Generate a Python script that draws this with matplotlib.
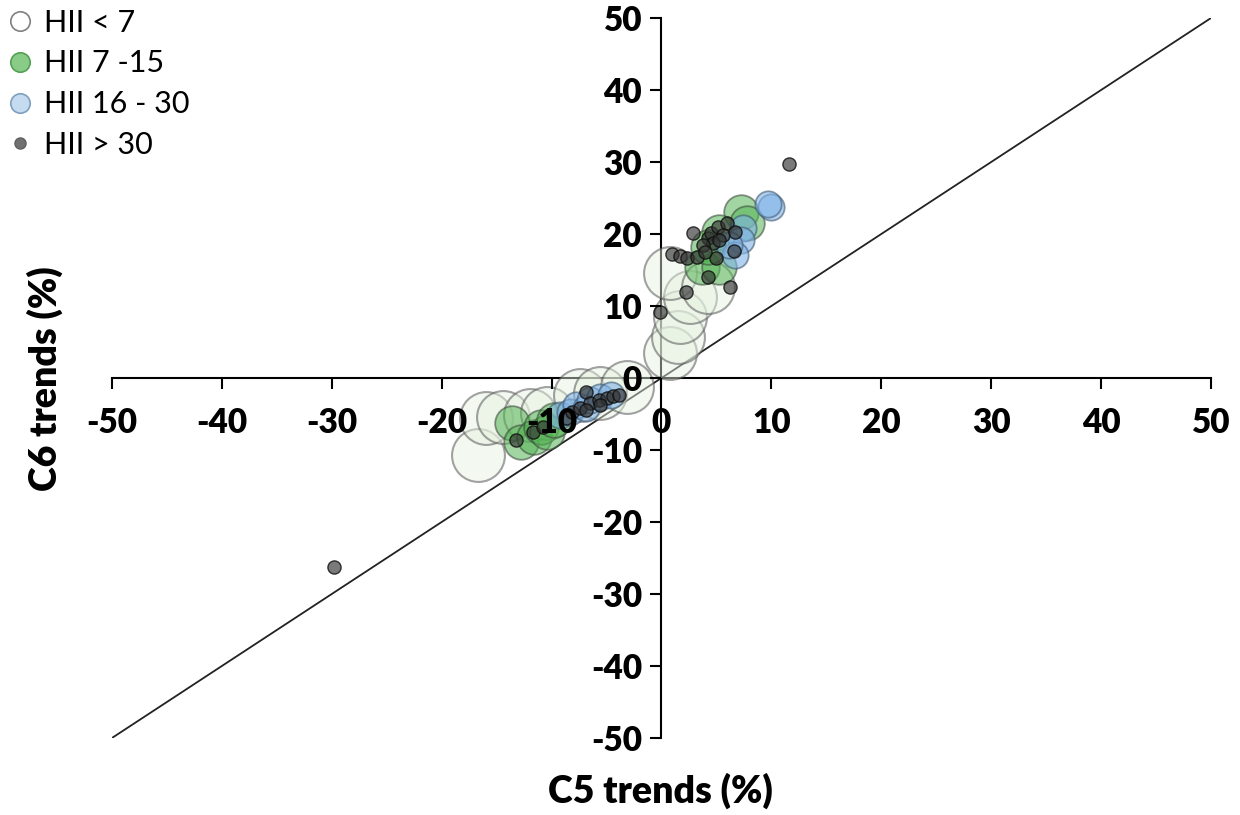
import matplotlib.pyplot as plt
from matplotlib.lines import Line2D

plt.rcParams['axes.unicode_minus'] = False

# HII < 7
lo_x = [0.8, 1.5, 1.7, 2.6, 0.8, 4.2, -16.7, -16.0, -14.4, -12.0, -10.4, -7.4, -5.6, -3.1]
lo_y = [3.5, 5.7, 8.5, 11.3, 14.6, 12.6, -10.7, -5.6, -5.4, -5.1, -4.9, -2.4, -2.1, -1.25]

# HII 7 - 15
mid_x = [7.2, 7.8, 5.2, 3.7, 5.2, 4.2, -13.6, -12.8, -11.6, -11.0, -10.4, -9.8]
mid_y = [23.1, 21.5, 20.3, 15.4, 15.4, 18.2, -6.3, -8.9, -8.2, -6.8, -7.5, -5.8]

# HII 16 - 30
hi_x = [10.0, 9.7, 7.4, 7.2, 6.7, 6.1, -9.2, -8.3, -7.8, -6.9, -6.5, -5.6, -4.6]
hi_y = [23.8, 24.2, 20.8, 19.2, 17.1, 18.5, -5.1, -4.7, -3.75, -4.2, -3.1, -2.6, -2.4]

# HII > 30
top_x = [-29.8, 11.6, -0.1, 2.2, 6.2, 2.9, 1.0, 1.7, 2.3, 3.2, 5.0, 4.2, 4.2, 4.5, 5.1,
         6.0, 5.6, 4.7, 3.8, 4.0, 6.7, 6.6, 5.2,
         -13.2, -11.7, -10.8, -6.9, -8.7, -8.1, -7.4, -6.5, -5.7, -5.0, -4.4, -3.9, -5.6, -6.9]
top_y = [-26.3, 29.7, 9.2, 12.0, 12.6, 20.1, 17.2, 16.9, 16.7, 16.8, 16.7, 14.0, 19.4, 20.1, 21.0,
         21.5, 19.9, 18.7, 18.5, 17.5, 20.3, 17.6, 19.2,
         -8.6, -7.5, -6.8, -1.9, -5.6, -4.7, -4.2, -3.5, -3.1, -2.8, -2.5, -2.4, -3.75, -4.4]

ticks = [-50, -40, -30, -20, -10, 0, 10, 20, 30, 40, 50]

fig = plt.figure(figsize=(12.4, 8.15), dpi=100)
ax = fig.add_axes([0.0903, 0.0945, 0.8863, 0.8834])

ax.plot([-50, 50], [-50, 50], color='#222222', lw=1.3, zorder=1)

ax.scatter(lo_x, lo_y, s=1450, facecolor=(0.90, 0.95, 0.88, 0.45),
           edgecolor=(0.35, 0.35, 0.35, 0.55), lw=1.5, zorder=2)
ax.scatter(mid_x, mid_y, s=620, facecolor=(0.33, 0.70, 0.33, 0.55),
           edgecolor=(0.25, 0.3, 0.25, 0.6), lw=1.3, zorder=3)
ax.scatter(hi_x, hi_y, s=360, facecolor=(0.50, 0.70, 0.90, 0.6),
           edgecolor=(0.25, 0.35, 0.45, 0.6), lw=1.3, zorder=4)
ax.scatter(top_x, top_y, s=90, facecolor=(0.2, 0.2, 0.2, 0.65),
           edgecolor=(0.05, 0.05, 0.05, 0.8), lw=1.0, zorder=5)

ax.set_xlim(-50, 50)
ax.set_ylim(-50, 50)
ax.spines['left'].set_position(('data', 0))
ax.spines['bottom'].set_position(('data', 0))
ax.spines['right'].set_visible(False)
ax.spines['top'].set_visible(False)
for sp in ['left', 'bottom']:
    ax.spines[sp].set_linewidth(1.5)
    ax.spines[sp].set_zorder(1)
ax.xaxis.set_zorder(10)
ax.yaxis.set_zorder(10)
ax.set_xticks(ticks)
ax.set_yticks(ticks)
ax.tick_params(direction='out', length=8, width=1.5, pad=13, labelsize=24)
ax.tick_params(axis='y', pad=6)
for lab in ax.get_xticklabels() + ax.get_yticklabels():
    lab.set_fontfamily('Lato')
    lab.set_fontweight('heavy')

fig.text(0.533, 0.03, 'C5 trends (%)', ha='center', va='center',
         fontsize=27, fontweight='heavy', family='Lato')
fig.text(0.036, 0.536, 'C6 trends (%)', ha='center', va='center', rotation=90,
         fontsize=27, fontweight='heavy', family='Lato')

handles = [
    Line2D([], [], ls='', marker='o', ms=14, mfc='white', mec='#808080', mew=1.2),
    Line2D([], [], ls='', marker='o', ms=14, mfc='#88cc88', mec='#55a055', mew=1.2),
    Line2D([], [], ls='', marker='o', ms=14, mfc='#c5dcf0', mec='#7f9fbf', mew=1.2),
    Line2D([], [], ls='', marker='o', ms=8, mfc='#707070', mec='#606060', mew=1.0),
]
labels = ['HII < 7', 'HII 7 -15', 'HII 16 - 30', 'HII > 30']
fig.legend(handles, labels, loc='upper left', bbox_to_anchor=(0.0, 0.997),
           frameon=False, prop={'family': 'Lato', 'size': 22},
           handlelength=0.9, handletextpad=0.35, labelspacing=0.42,
           borderpad=0.2, borderaxespad=0.0)

fig.savefig('out.png', dpi=100)
